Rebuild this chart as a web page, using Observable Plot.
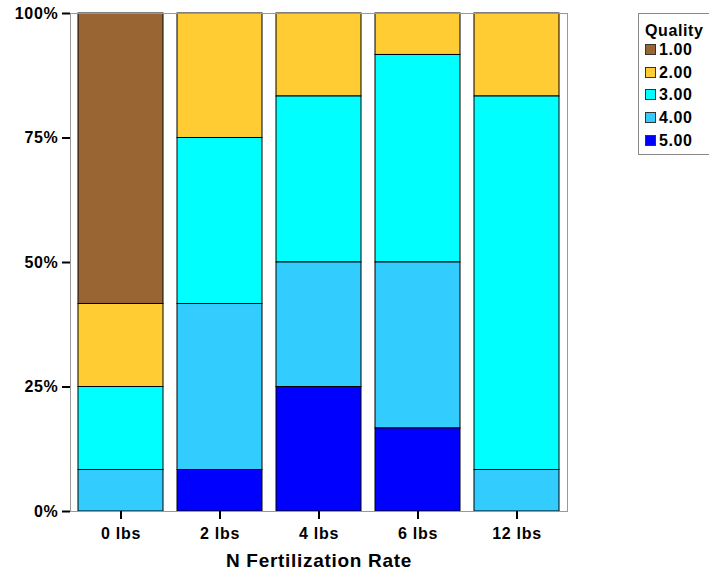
<!DOCTYPE html>
<html>
<head>
<meta charset="utf-8">
<script src="https://cdn.jsdelivr.net/npm/d3@7"></script>
<script src="https://cdn.jsdelivr.net/npm/@observablehq/plot@0.6"></script>
<style>
  html, body { margin: 0; padding: 0; background: #fff; }
  #wrap { position: relative; width: 709px; height: 574px; overflow: hidden; font-family: "Liberation Sans", Arial, sans-serif; font-weight: bold; }
  #legend { position: absolute; left: 638px; top: 13px; width: 80px; height: 142px; border: 1px solid #888; box-sizing: border-box; background: #fff; }
  .lrow { position: absolute; left: 0; height: 18px; line-height: 18px; font-size: 16px; letter-spacing: 0.6px; color: #000; white-space: nowrap; }
  .sw { display: inline-block; width: 9px; height: 9px; border: 1px solid #333; vertical-align: middle; margin-right: 3px; position: relative; top: -1px; }
</style>
</head>
<body>
<div id="wrap"></div>
<script>
const categories = ["0 lbs", "2 lbs", "4 lbs", "6 lbs", "12 lbs"];
const qualities = ["1.00", "2.00", "3.00", "4.00", "5.00"];
const colors = ["#996633", "#FFCC33", "#00FFFF", "#33CCFF", "#0000FF"];
// percent of each bar, per quality level
const q1 = [58.33, 0, 0, 0, 0];
const q2 = [16.67, 25, 16.67, 8.33, 16.67];
const q3 = [16.67, 33.33, 33.33, 41.67, 75];
const q4 = [8.33, 33.33, 25, 33.33, 8.33];
const q5 = [0, 8.33, 25, 16.67, 0];
const yTicks = [0, 0.25, 0.5, 0.75, 1];
const stackOrder = ["5.00", "4.00", "3.00", "2.00", "1.00"];

const series = [q1, q2, q3, q4, q5];
const data = qualities.flatMap((q, i) =>
  series[i].map((v, j) => ({cat: categories[j], quality: q, value: v}))
).filter(d => d.value > 0);

const chart = Plot.plot({
  width: 709,
  height: 574,
  marginLeft: 70,
  marginRight: 142,
  marginTop: 13,
  marginBottom: 63,
  style: {fontFamily: "'Liberation Sans', Arial, sans-serif", fontWeight: "bold", fontSize: "16px", letterSpacing: "0.7px", background: "transparent"},
  x: {domain: categories, paddingInner: 0.146, paddingOuter: 0.07, label: null},
  y: {domain: [0, 1], label: null},
  color: {domain: qualities, range: colors},
  marks: [
    Plot.barY(data, {
      x: "cat", y: "value", z: "quality", fill: "quality",
      order: stackOrder, offset: "normalize",
      stroke: "black", strokeWidth: 1
    }),
    Plot.frame({stroke: "#999"}),
    Plot.axisY({ticks: yTicks, tickFormat: d => Math.round(d * 100) + "%", tickSize: 8, tickPadding: 4, strokeWidth: 2, stroke: "black", fill: "black", label: null}),
    Plot.axisX({tickSize: 8, tickPadding: 8, strokeWidth: 2, stroke: "black", fill: "black", label: null}),
    Plot.text(["N Fertilization Rate"], {frameAnchor: "bottom", lineAnchor: "middle", dy: 49, fontSize: 19, fontWeight: "bold", fill: "black"})
  ]
});

const wrap = document.getElementById("wrap");
wrap.appendChild(chart);

const legend = document.createElement("div");
legend.id = "legend";
const title = document.createElement("div");
title.className = "lrow";
title.style.left = "6px";
title.style.top = (31 - 13 - 9 - 1) + "px";
title.textContent = "Quality";
legend.appendChild(title);
const rowCenters = [50, 73, 95, 118, 141];
qualities.forEach((q, i) => {
  const row = document.createElement("div");
  row.className = "lrow";
  row.style.left = "6px";
  row.style.top = (rowCenters[i] - 13 - 9 - 1) + "px";
  const sw = document.createElement("span");
  sw.className = "sw";
  sw.style.background = colors[i];
  row.appendChild(sw);
  row.appendChild(document.createTextNode(q));
  legend.appendChild(row);
});
wrap.appendChild(legend);
</script>
</body>
</html>
